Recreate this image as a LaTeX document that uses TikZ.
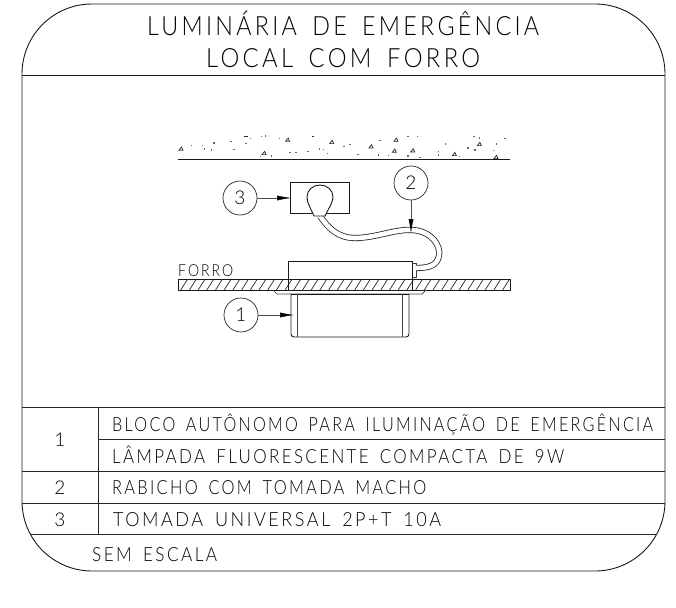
\documentclass[tikz,border=0pt]{standalone}
\usepackage{graphicx}
\usepackage{fontspec}
\setmainfont{Lato}[UprightFont=* Light]
\usetikzlibrary{arrows.meta}
\newfontfamily\cadA[LetterSpace=14,WordSpace=1.6,UprightFont=* Light]{Lato}
\newcommand{\fitw}[2]{\resizebox{#1pt}{\height}{#2}}
\tikzset{
  frameline/.style={line width=0.9pt,black!90},
  rowline/.style={line width=0.7pt,black!85},
  part/.style={line width=0.9pt,black!90},
  thinpart/.style={line width=0.7pt,black!75},
  callout/.style={circle,draw=black!85,line width=0.7pt,minimum size=34pt,inner sep=0pt,font=\fontsize{19}{19}\selectfont,text=black},
  leader/.style={line width=0.5pt,black!70,-{Latex[length=14pt,width=5pt,black]}},
  titletext/.style={font=\cadA\fontsize{26.5}{27}\selectfont,text=black,anchor=base west,inner sep=0pt},
  rowtext/.style={font=\cadA\fontsize{19.5}{20}\selectfont,text=black,anchor=base west,inner sep=0pt},
  numtext/.style={font=\fontsize{19}{19}\selectfont,text=black,anchor=base,inner sep=0pt},
  speck/.style={fill=black!60,inner sep=0pt,minimum size=1.2pt,shape=rectangle},
  grit/.style={line width=0.7pt,black!85}
}
\begin{document}
\begin{tikzpicture}[x=1pt,y=-1pt]
\useasboundingbox (0,0) rectangle (676,607);
% frame
\draw[frameline,rounded corners=70pt] (300,4) -- (665,4) -- (665,571) -- (22,571) -- (22,4) -- cycle;
\draw[frameline] (22,75) -- (665,75);
\draw[rowline] (22,407) -- (665,407);
\draw[rowline] (98,439) -- (665,439);
\draw[rowline] (22,471) -- (665,471);
\draw[rowline] (22,503) -- (665,503);
\draw[rowline] (30,534) -- (657,534);
\draw[rowline] (98,407) -- (98,534);
% title
\node[titletext] (t1) at (147,36) {\fitw{392}{LUMINÁRIA DE EMERGÊNCIA}};
\node[titletext] (t2) at (206,68) {\fitw{274}{LOCAL COM FORRO}};
% table
\node[numtext] (n1) at (60,446) {1};
\node[numtext] (n2) at (60,494) {2};
\node[numtext] (n3) at (60,526) {3};
\node[rowtext] (r1) at (112,431) {\fitw{541}{BLOCO AUTÔNOMO PARA ILUMINAÇÃO DE EMERGÊNCIA}};
\node[rowtext] (r2) at (112,463) {\fitw{452}{LÂMPADA FLUORESCENTE COMPACTA DE 9W}};
\node[rowtext] (r3) at (112,494) {\fitw{314}{RABICHO COM TOMADA MACHO}};
\node[rowtext] (r4) at (113,526) {\fitw{328}{TOMADA UNIVERSAL 2P+T 10A}};
\node[rowtext] (r5) at (92,561) {\fitw{125}{SEM ESCALA}};
% ceiling
\draw[part] (178,159) -- (510,159);
\foreach \x/\y in {95/77,127/77,133/87,162/69,155/90,213/65,222/88,258/70,272/55,305/50,316/48,358/55,302/110,334/108,390/98,408/97,444/95,478/87,490/88,502/100,552/80,570/73,594/103,655/105,660/62,685/107,744/50,772/50,744/108,780/112,856/72,835/95,835/105,898/110,924/84,942/50,958/54,945/90,1010/72,1035/55,1000/92}
  \node[speck] at ({160+\x/3},{120+\y/3}) {};
\foreach \x/\y in {63/87,383/60,515/67,312/100,633/80,703/93,708/60,758/92,883/103,958/73,1008/112}
  \draw[grit] ({160+\x/3-2},{120+\y/3+1.3}) -- ({160+\x/3+2},{120+\y/3+1.3}) -- ({160+\x/3+0.5},{120+\y/3-2}) -- cycle;
\draw[grit] (244,136.7) -- (248,136.7);
\draw[grit] (312,136.7) -- (314,136.7);
% forro
\node[font=\cadA\fontsize{16.5}{17}\selectfont,text=black,anchor=base west,inner sep=0pt] (forro) at (178,276) {\fitw{55}{FORRO}};
\begin{scope}
\clip (178,279) rectangle (510,290);
\foreach \i in {0,...,40}
  \draw[line width=0.7pt,black!85] ({172+\i*8.7},290) -- ({179+\i*8.7},279);
\end{scope}
\draw[part] (178,279) rectangle (510,290);
% luminaire body above
\fill[white] (288,261) rectangle (412,279);
\draw[part] (288,290) -- (288,261) -- (412,261) -- (412,290);
\draw[thinpart] (412,263) -- (416,263) -- (416,277) -- (412,277);
% flange
\draw[thinpart] (273,290) -- (277,294) -- (422,294) -- (426,290);
% lamp
\draw[part,rounded corners=3pt] (291,294) -- (291,337) -- (409,337) -- (409,294);
\draw[part] (291,294) -- (409,294);
\draw[thinpart] (297,294) -- (297,337);
\draw[thinpart] (402,294) -- (402,337);
% outlet
\draw[part] (290,182) rectangle (349,213);
% cable
\draw[line width=0.8pt,black!85,double=white,double distance=4.6pt] (320,216) .. controls (328,228) and (338,238) .. (355,238)
  .. controls (375,238) and (395,229) .. (412,230) .. controls (432,231) and (441,246) .. (439,256)
  .. controls (437,266) and (428,268) .. (416,268);
% plug
\draw[part,fill=white] (314,216) .. controls (311,209) and (307,203) .. (307,197)
  .. controls (307,190) and (313,185) .. (320,185) .. controls (327,185) and (333,190) .. (333,197)
  .. controls (333,203) and (328,209) .. (325,216) -- cycle;
% callouts
\node[callout] (c3) at (240,198) {3};
\node[callout] (c2) at (411,183) {2};
\node[callout] (c1) at (241,315) {1};
\coordinate (a3) at (291,198);
\coordinate (a2) at (411,233);
\coordinate (a1) at (294,315);
\draw[leader] (c3) -- (a3);
\draw[leader] (c2) -- (a2);
\draw[leader] (c1) -- (a1);
\end{tikzpicture}
\end{document}
